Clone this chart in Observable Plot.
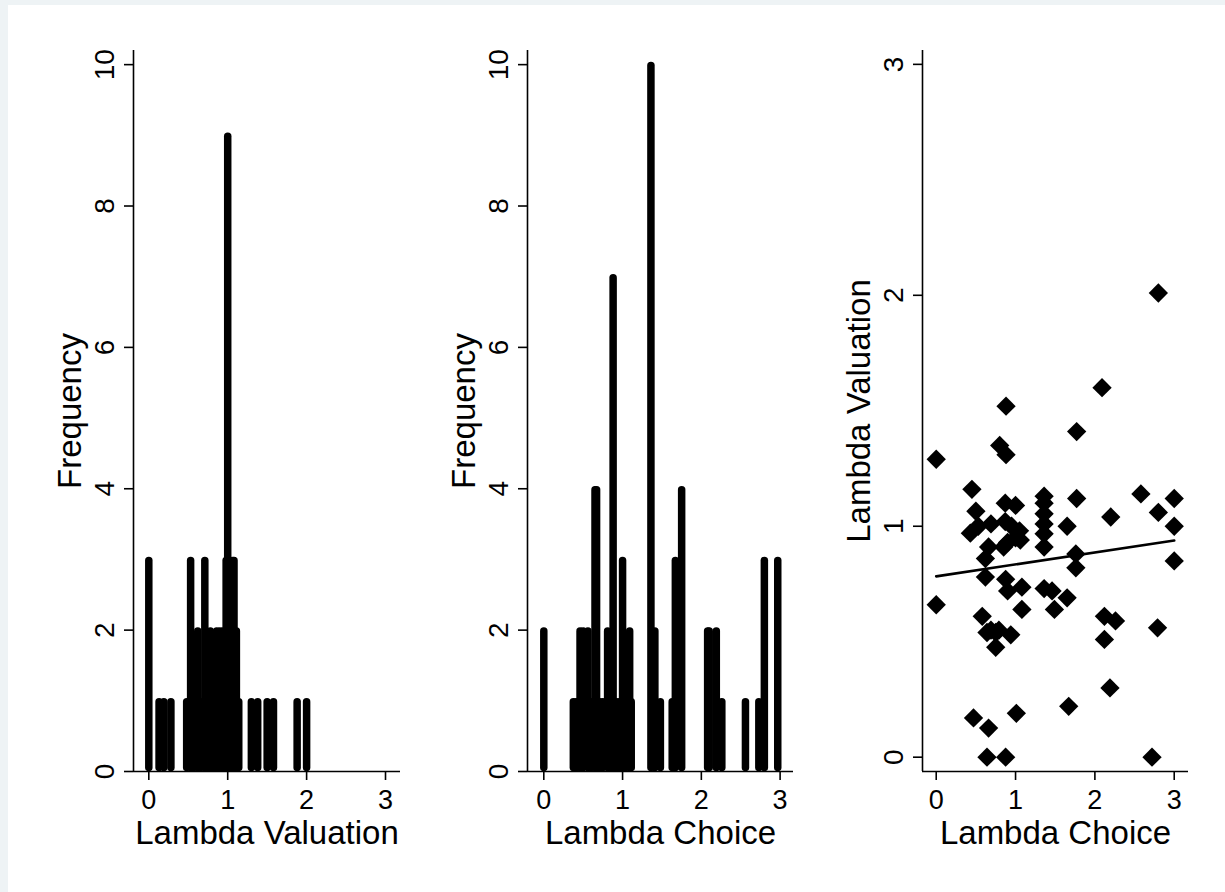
<!DOCTYPE html>
<html><head><meta charset="utf-8">
<script src="https://cdn.jsdelivr.net/npm/d3@7"></script>
<script src="https://cdn.jsdelivr.net/npm/@observablehq/plot@0.6"></script>
<style>
body{margin:0;background:#eef3f5;}
#page{position:relative;width:1225px;height:892px;overflow:hidden;}
#inner{position:absolute;left:8px;top:5px;right:0;bottom:0;background:#fff;}
.panel{position:absolute;top:0;}
</style></head><body>
<div id="page"><div id="inner"></div></div>
<script>
// Histogram 1: Lambda Valuation (bin position, frequency)
const valuationBins = [0, 0.13, 0.19, 0.28, 0.48, 0.53, 0.57, 0.62, 0.66, 0.71, 0.75, 0.78, 0.82, 0.86, 0.90, 0.94, 0.98, 1.00, 1.03, 1.06, 1.08, 1.11, 1.14, 1.30, 1.38, 1.50, 1.58, 1.88, 2.00];
const valuationFreq = [3, 1, 1, 1, 1, 3, 1, 2, 1, 3, 1, 2, 1, 2, 2, 2, 3, 9, 3, 3, 3, 2, 1, 1, 1, 1, 1, 1, 1];
// Histogram 2: Lambda Choice
const choiceBins = [0, 0.375, 0.41, 0.46, 0.50, 0.56, 0.60, 0.65, 0.67, 0.71, 0.75, 0.81, 0.84, 0.88, 0.92, 0.96, 1.00, 1.04, 1.09, 1.11, 1.36, 1.41, 1.48, 1.63, 1.67, 1.75, 2.08, 2.10, 2.19, 2.26, 2.56, 2.73, 2.80, 2.97];
const choiceFreq = [2, 1, 1, 2, 2, 2, 1, 4, 4, 1, 1, 2, 1, 7, 1, 1, 3, 1, 2, 1, 10, 2, 1, 1, 3, 4, 2, 2, 2, 1, 1, 1, 3, 3];
// Scatter: Lambda Choice (x) vs Lambda Valuation (y)
const scatterChoice = [0, 0, 0.45, 0.50, 0.43, 0.53, 0.47, 0.58, 0.62, 0.62, 0.64, 0.64, 0.66, 0.66, 0.69, 0.69, 0.75, 0.75, 0.79, 0.80, 0.88, 0.88, 0.87, 0.87, 0.85, 0.875, 0.90, 0.875, 0.90, 0.95, 1.00, 1.00, 1.05, 1.06, 0.94, 1.01, 1.08, 1.08, 1.36, 1.36, 1.36, 1.36, 1.36, 1.36, 1.36, 1.46, 1.49, 1.65, 1.65, 1.67, 1.77, 1.77, 1.76, 1.76, 2.09, 2.20, 2.12, 2.26, 2.12, 2.19, 2.58, 2.80, 2.80, 2.79, 2.72, 3.00, 3.00, 3.00];
const scatterValuation = [1.29, 0.66, 1.16, 1.065, 0.97, 1.00, 0.17, 0.61, 0.86, 0.78, 0.54, 0, 0.91, 0.126, 1.01, 0.55, 0.54, 0.476, 0.55, 1.35, 1.31, 1.52, 1.10, 1.02, 0.91, 0.77, 0.72, 0, 0.93, 1.00, 1.09, 0.95, 0.98, 0.94, 0.53, 0.19, 0.736, 0.64, 1.13, 1.10, 1.054, 1.01, 0.967, 0.91, 0.73, 0.72, 0.64, 1.00, 0.69, 0.22, 1.41, 1.12, 0.88, 0.82, 1.60, 1.04, 0.61, 0.59, 0.51, 0.30, 1.14, 2.01, 1.06, 0.56, 0, 1.12, 1.00, 0.85];
// Fitted line endpoints
const fitChoice = [0, 3];
const fitValuation = [0.783, 0.938];
// Tick labels
const xTicks = [0, 1, 2, 3];
const freqTicks = [0, 2, 4, 6, 8, 10];
const valTicks = [0, 1, 2, 3];

const FONT = "Liberation Sans, Arial, Helvetica, sans-serif";
const page = document.getElementById("page");

function panel({left, width, marginLeft, marginRight, xDomain, yDomain, yTicks, xLabel, yLabel, marks}) {
  const svg = Plot.plot({
    width, height: 892,
    marginLeft, marginRight, marginTop: 50, marginBottom: 121,
    style: {fontFamily: FONT, background: "transparent", color: "black", maxWidth: "none"},
    x: {domain: xDomain},
    y: {domain: yDomain},
    marks: [
      ...marks,
      Plot.ruleX([xDomain[0]], {stroke: "black", strokeWidth: 1.6}),
      Plot.ruleY([yDomain[0]], {stroke: "black", strokeWidth: 1.6}),
      Plot.axisX({ticks: xTicks, tickSize: 9, tickFormat: () => "", strokeWidth: 1.6, label: null}),
      Plot.axisY({ticks: yTicks, tickSize: 9, tickFormat: () => "", strokeWidth: 1.6, label: null}),
      Plot.text(xTicks, {x: d => d, text: d => String(d), frameAnchor: "bottom", dy: 18, lineAnchor: "top", fontSize: 27, fill: "black"}),
      Plot.text(yTicks, {y: d => d, text: d => String(d), frameAnchor: "left", rotate: -90, dx: -20, lineAnchor: "bottom", textAnchor: "middle", fontSize: 28, fill: "black"}),
      Plot.text([xLabel], {text: d => d, frameAnchor: "bottom", dy: 72, lineAnchor: "bottom", fontSize: 33, fill: "black"}),
      Plot.text([yLabel], {text: d => d, frameAnchor: "left", rotate: -90, dx: -53, lineAnchor: "bottom", textAnchor: "middle", fontSize: 33, fill: "black"})
    ]
  });
  svg.classList.add("panel");
  svg.style.left = left + "px";
  page.appendChild(svg);
}

// Bars are thick spikes with rounded ends; ends are pulled in by the cap radius (in data units)
const capUnits = 3.6 / 70.7;
function bars(bins, freq) {
  return Plot.ruleX(d3.range(bins.length), {
    x: i => bins[i], y1: capUnits, y2: i => freq[i] - capUnits * 0.4,
    stroke: "black", strokeWidth: 7.5, strokeLinecap: "round"
  });
}

panel({
  left: 0, width: 410, marginLeft: 133, marginRight: 10,
  xDomain: [-0.194, 3.19], yDomain: [0, 10.2], yTicks: freqTicks,
  xLabel: "Lambda Valuation", yLabel: "Frequency",
  marks: [bars(valuationBins, valuationFreq)]
});

panel({
  left: 410, width: 400, marginLeft: 117, marginRight: 17,
  xDomain: [-0.207, 3.17], yDomain: [0, 10.2], yTicks: freqTicks,
  xLabel: "Lambda Choice", yLabel: "Frequency",
  marks: [bars(choiceBins, choiceFreq)]
});

panel({
  left: 810, width: 415, marginLeft: 112, marginRight: 37,
  xDomain: [-0.173, 3.18], yDomain: [-0.062, 3.06], yTicks: valTicks,
  xLabel: "Lambda Choice", yLabel: "Lambda Valuation",
  marks: [
    Plot.dot(d3.range(scatterChoice.length), {x: i => scatterChoice[i], y: i => scatterValuation[i], symbol: "diamond2", r: 8.7, fill: "black", stroke: "none"}),
    Plot.line(d3.range(fitChoice.length), {x: i => fitChoice[i], y: i => fitValuation[i], stroke: "black", strokeWidth: 2.6})
  ]
});
</script>
</body></html>
